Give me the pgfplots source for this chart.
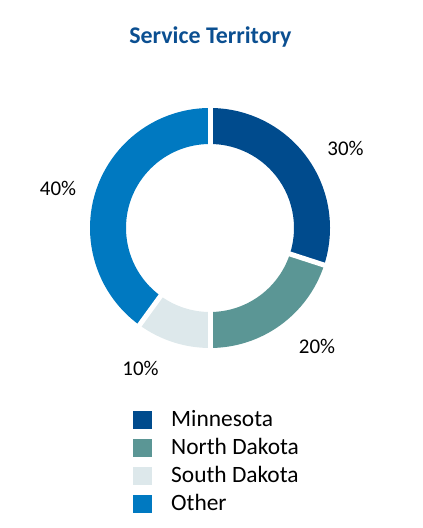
\documentclass[border=0pt]{standalone}
\usepackage{pgfplots}
\pgfplotsset{compat=1.18}
\usepackage{fontspec}
\setmainfont{Carlito}
\definecolor{cMN}{HTML}{004B8D}
\definecolor{cND}{HTML}{5B9695}
\definecolor{cSD}{HTML}{DDE8EB}
\definecolor{cOT}{HTML}{0079C1}
\definecolor{ctitle}{HTML}{0B4F91}
\def\Ro{120bp}\def\Ri{84bp}
\begin{document}
\begin{tikzpicture}
\begin{axis}[
  x=1bp, y=1bp, xmin=0, xmax=422, ymin=0, ymax=528,
  hide axis, clip=false, scale only axis,
]
\path (rel axis cs:0,0) rectangle (rel axis cs:1,1);
% values: Minnesota 30, North Dakota 20, South Dakota 10, Other 40 (percent)
% Minnesota 30
\fill[cMN] (axis cs:210,300) ++(90:\Ro) arc[start angle=90, end angle={90-3.6*30}, radius=\Ro] -- ++({90-3.6*30}:-36bp) arc[start angle={90-3.6*30}, end angle=90, radius=\Ri] -- cycle;
% North Dakota 20
\fill[cND] (axis cs:210,300) ++({90-3.6*30}:\Ro) arc[start angle={90-3.6*30}, end angle={90-3.6*50}, radius=\Ro] -- ++({90-3.6*50}:-36bp) arc[start angle={90-3.6*50}, end angle={90-3.6*30}, radius=\Ri] -- cycle;
% South Dakota 10
\fill[cSD] (axis cs:210,300) ++({90-3.6*50}:\Ro) arc[start angle={90-3.6*50}, end angle={90-3.6*60}, radius=\Ro] -- ++({90-3.6*60}:-36bp) arc[start angle={90-3.6*60}, end angle={90-3.6*50}, radius=\Ri] -- cycle;
% Other 40
\fill[cOT] (axis cs:210,300) ++({90-3.6*60}:\Ro) arc[start angle={90-3.6*60}, end angle={90-3.6*100}, radius=\Ro] -- ++({90-3.6*100}:-36bp) arc[start angle={90-3.6*100}, end angle={90-3.6*60}, radius=\Ri] -- cycle;
% gaps
\draw[white, line width=5bp] (axis cs:210,300) ++(90:80bp) -- ++(90:45bp);
\draw[white, line width=5bp] (axis cs:210,300) ++(-18:80bp) -- ++(-18:45bp);
\draw[white, line width=5bp] (axis cs:210,300) ++(-90:80bp) -- ++(-90:45bp);
\draw[white, line width=5bp] (axis cs:210,300) ++(-126:80bp) -- ++(-126:45bp);
% title
\node[anchor=base, font=\fontsize{24}{28}\selectfont\bfseries, text=ctitle] at (axis cs:210.5,484) {Service Territory};
% labels
\node[font=\fontsize{21}{25}\selectfont, inner sep=0pt] at (axis cs:345.5,380) {30\%};
\node[font=\fontsize{21}{25}\selectfont, inner sep=0pt] at (axis cs:317,181.5) {20\%};
\node[font=\fontsize{21}{25}\selectfont, inner sep=0pt] at (axis cs:140.5,160) {10\%};
\node[font=\fontsize{21}{25}\selectfont, inner sep=0pt] at (axis cs:58,340) {40\%};
% legend
\fill[cMN] (axis cs:133,98.5) rectangle (axis cs:152,116.5);
\node[anchor=base west, inner sep=0pt, font=\fontsize{23.5}{28}\selectfont] at (axis cs:171,101) {Minnesota};
\fill[cND] (axis cs:133,71) rectangle (axis cs:152,89);
\node[anchor=base west, inner sep=0pt, font=\fontsize{23.5}{28}\selectfont] at (axis cs:171,73.5) {North Dakota};
\fill[cSD] (axis cs:133,43) rectangle (axis cs:152,61);
\node[anchor=base west, inner sep=0pt, font=\fontsize{23.5}{28}\selectfont] at (axis cs:171,45.5) {South Dakota};
\fill[cOT] (axis cs:133,15) rectangle (axis cs:152,33);
\node[anchor=base west, inner sep=0pt, font=\fontsize{23.5}{28}\selectfont] at (axis cs:171,17.5) {Other};
\end{axis}
\end{tikzpicture}
\end{document}
